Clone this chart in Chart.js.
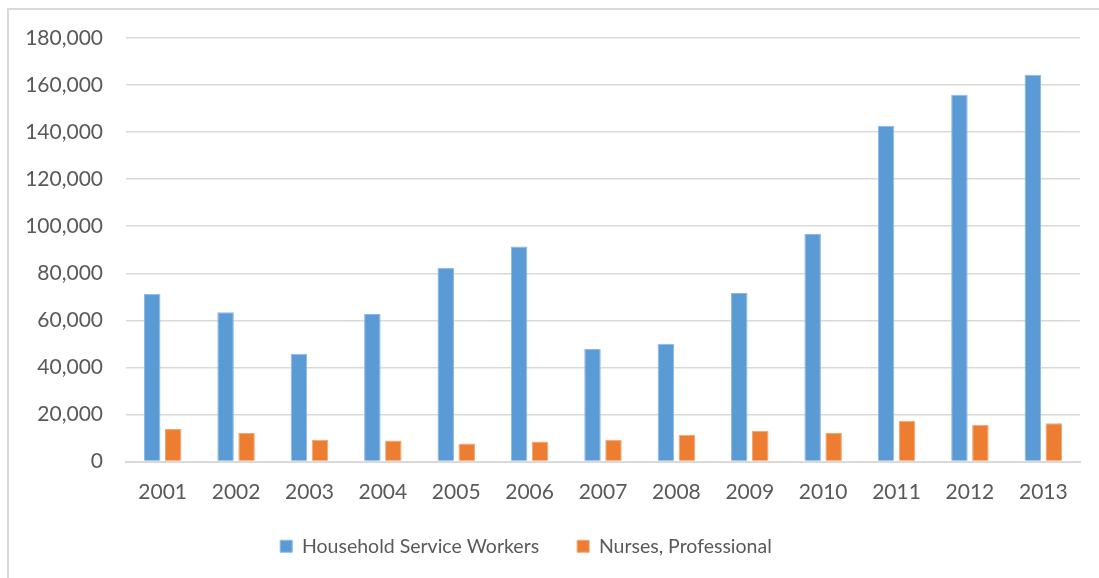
<!DOCTYPE html>
<html>
<head>
<meta charset="utf-8">
<script src="https://cdn.jsdelivr.net/npm/chart.js@4"></script>
<style>
    body { margin: 0; background: #fff; }
    #frame {
        position: absolute;
        left: 7px;
        top: 8px;
        width: 1092px;
        height: 570px;
        border-left: 2px solid #D9D9D9;
        border-top: 2px solid #D9D9D9;
    }
    #wrap { position: absolute; left: 0; top: 0; width: 1099px; height: 578px; }
</style>
</head>
<body>
<div id="frame"></div>
<div id="wrap"><canvas id="chart"></canvas></div>
<script>
// years and yearly counts per occupation
var years = ['2001', '2002', '2003', '2004', '2005', '2006', '2007', '2008', '2009', '2010', '2011', '2012', '2013'];
var householdWorkers = [71300, 63400, 45800, 62700, 82400, 91400, 47800, 50000, 71600, 96700, 142700, 155900, 164400];
var nursesProfessional = [13800, 12100, 9200, 8900, 7700, 8500, 9200, 11400, 13100, 12100, 17300, 15600, 16300];
var yMax = 180000;
var yStep = 20000;

var textColor = '#595959';
var gridColor = '#D9D9D9';
var fontFamily = "Lato, sans-serif";

// move the legend a little left and up from where the layout puts it
var legendShift = {
    id: 'legendShift',
    afterLayout: function (chart) {
        var lg = chart.legend;
        lg.left -= 14;
        lg.right -= 14;
        lg.top -= 11;
        lg.bottom -= 11;
    }
};

ctx = document.getElementById('chart');
chart = new Chart(ctx, {
    type: 'bar',
    data: {
        labels: years,
        datasets: [{
            label: 'Household Service Workers',
            data: householdWorkers,
            backgroundColor: '#5B9BD5',
            borderColor: '#8CB9E3',
            borderWidth: 1,
            categoryPercentage: 0.572,
            barPercentage: 0.786
        },
        {
            label: 'Nurses, Professional',
            data: nursesProfessional,
            backgroundColor: '#ED7D31',
            borderColor: '#F3A673',
            borderWidth: 1,
            categoryPercentage: 0.572,
            barPercentage: 0.786
        }]
    },
    plugins: [legendShift],
    options: {
        responsive: true,
        maintainAspectRatio: false,
        animation: false,
        layout: {
            padding: { left: 0, right: 19, top: 38, bottom: 1 }
        },
        plugins: {
            tooltip: { enabled: false },
            legend: {
                position: 'bottom',
                labels: {
                    boxWidth: 12,
                    boxHeight: 12,
                    padding: 38,
                    color: textColor,
                    font: { family: fontFamily, size: 19.5 }
                }
            }
        },
        scales: {
            x: {
                grid: { display: false, drawTicks: false },
                border: { display: true, color: gridColor, width: 2 },
                afterFit: function (scale) { scale.height = 48; },
                ticks: {
                    color: textColor,
                    padding: 18,
                    font: { family: fontFamily, size: 21 }
                }
            },
            y: {
                min: 0,
                max: yMax,
                grid: { color: gridColor, lineWidth: 1.5, drawTicks: false },
                border: { display: false },
                afterFit: function (scale) { scale.width = 126; },
                ticks: {
                    stepSize: yStep,
                    color: textColor,
                    padding: 23,
                    font: { family: fontFamily, size: 21 },
                    callback: function (v) { return v.toLocaleString('en-US'); }
                }
            }
        }
    }
});
</script>
</body>
</html>
